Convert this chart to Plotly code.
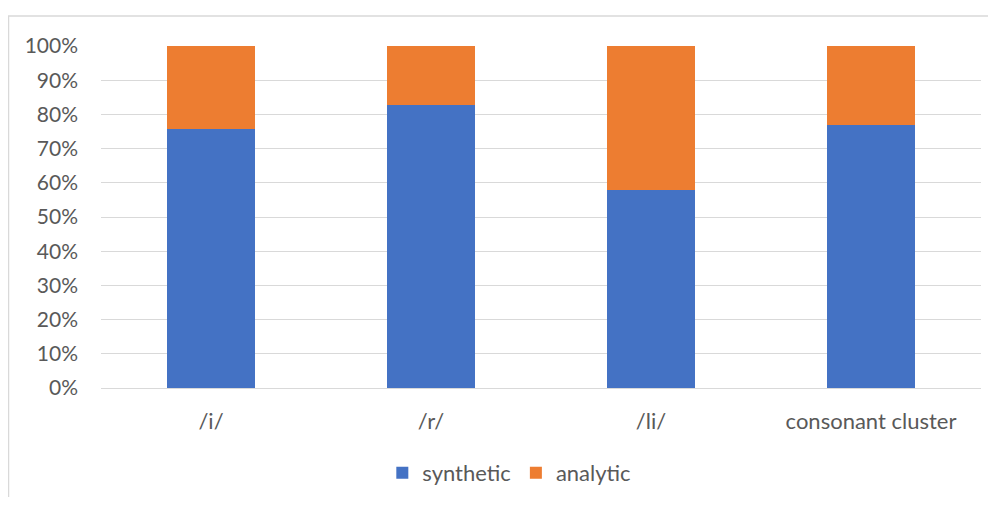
import plotly.graph_objects as go

categories = ["/i/", "/r/", "/li/", "consonant cluster"]
synthetic = [75.6, 82.8, 57.9, 76.8]
analytic = [24.4, 17.2, 42.1, 23.2]
tick_vals = [0, 10, 20, 30, 40, 50, 60, 70, 80, 90, 100]
tick_text = [f"{v}%" for v in tick_vals]

# page shows figure offset by 8px (body margin)
OFF = 8
W, H = 996 - 2 * OFF, 505 - 2 * OFF
# screen coords of plot area
SX0, SX1, SY0, SY1 = 101, 981, 46, 388
L, T = SX0 - OFF, SY0 - OFF
R = W - (SX1 - OFF)
B = H - (SY1 - OFF)
pw, ph = SX1 - SX0, SY1 - SY0

fig = go.Figure()
fig.add_trace(go.Bar(name="synthetic", x=categories, y=synthetic, marker_color="#4472C4",
                     marker_line_width=0, width=0.4))
fig.add_trace(go.Bar(name="analytic", x=categories, y=analytic, marker_color="#ED7D31",
                     marker_line_width=0, width=0.4))

font_family = "Lato, 'Open Sans', sans-serif"
fig.update_layout(
    width=W, height=H,
    margin=dict(l=L, r=R, t=T, b=B, autoexpand=False),
    barmode="stack",
    plot_bgcolor="white", paper_bgcolor="white",
    font=dict(family=font_family, size=22, color="#595959"),
    showlegend=True,
    legend=dict(orientation="h", x=0.464, xanchor="center", y=(SY1 - 473) / ph, yanchor="middle",
                font=dict(size=22, color="#595959"), itemsizing="constant",
                traceorder="normal", itemwidth=30),
    yaxis=dict(range=[0, 100], tickvals=tick_vals, ticktext=tick_text,
               showgrid=True, gridcolor="#D9D9D9", gridwidth=1, zeroline=False,
               showline=False, ticks="", ticklen=0, ticklabelstandoff=22,
               tickfont=dict(size=21)),
    xaxis=dict(showline=True, linecolor="#D9D9D9", linewidth=1, ticks="",
               tickfont=dict(size=22), range=[-0.5, 3.5], ticklabelstandoff=14),
)

# chart area border (light gray frame)
fig.add_shape(type="rect", xref="paper", yref="paper",
              x0=(8.5 - SX0) / pw, x1=(1020 - SX0) / pw,
              y0=(SY1 - 540) / ph, y1=(SY1 - 16) / ph,
              line=dict(color="#D9D9D9", width=1.5), fillcolor="rgba(0,0,0,0)", layer="below")

fig.write_html("out.html")
